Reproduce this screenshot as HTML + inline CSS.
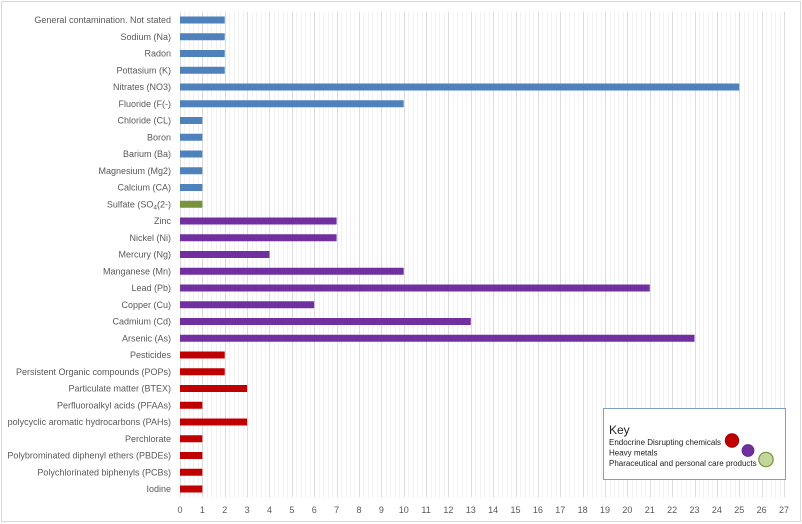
<!DOCTYPE html>
<html><head><meta charset="utf-8"><style>
html,body{margin:0;padding:0;background:#fff;}
svg{display:block;}
text{font-family:"Liberation Sans",Arial,sans-serif;}
</style></head><body>
<svg width="802" height="524" viewBox="0 0 802 524" xmlns="http://www.w3.org/2000/svg">
<rect x="1.5" y="1.5" width="799" height="520" fill="#fff" stroke="#d9d9d9" stroke-width="1"/>
<g id="minor" stroke="#f2f2f2" stroke-width="1">
</g>
<g id="major" stroke="#dcdcdc" stroke-width="1">
</g>
<g id="bars"></g>
<g id="labels" font-size="9" fill="#595959" text-anchor="end"></g>
<g id="ticks" font-size="9" fill="#595959" text-anchor="middle"></g>
<rect x="603.5" y="408.5" width="182" height="71" fill="#fff" stroke="#7f9cc6" stroke-width="1"/>
<text x="609" y="434" font-size="12" fill="#222">Key</text>
<text x="609" y="445" font-size="8" fill="#222">Endocrine Disrupting chemicals</text>
<text x="609" y="455.5" font-size="8" fill="#222">Heavy metals</text>
<text x="609" y="466" font-size="8" fill="#222">Pharaceutical and personal care products</text>
<circle cx="732" cy="440.5" r="6.8" fill="#c00000" stroke="#a00000" stroke-width="0.8"/>
<circle cx="748" cy="450.5" r="6" fill="#7030a0" stroke="#5e2488" stroke-width="0.8"/>
<circle cx="766" cy="459.5" r="7.2" fill="#c3d69b" stroke="#77933c" stroke-width="1.2"/>
</svg>
<script>
(function(){
var ns="http://www.w3.org/2000/svg";
var x0=180, u=604/27, top=11.6, bot=497.4, rowH=16.75;
function el(tag,attrs,parent,txt){var e=document.createElementNS(ns,tag);for(var k in attrs)e.setAttribute(k,attrs[k]);if(txt!=null)e.textContent=txt;document.getElementById(parent).appendChild(e);return e;}
for(var i=0;i<=27*5;i++){var x=Math.round(x0+i*u/5)+0.5;if(i%5===0){el('line',{x1:x,x2:x,y1:top,y2:bot},'major');}else{el('line',{x1:x,x2:x,y1:top,y2:bot},'minor');}}
var B="#4f81bd",G="#77933c",P="#7030a0",R="#c00000";
var data=[
["General contamination. Not stated",2,B],["Sodium (Na)",2,B],["Radon",2,B],["Pottasium (K)",2,B],["Nitrates (NO3)",25,B],["Fluoride (F(-)",10,B],["Chloride (CL)",1,B],["Boron",1,B],["Barium (Ba)",1,B],["Magnesium (Mg2)",1,B],["Calcium (CA)",1,B],["SULF",1,G],["Zinc",7,P],["Nickel (Ni)",7,P],["Mercury (Ng)",4,P],["Manganese (Mn)",10,P],["Lead (Pb)",21,P],["Copper (Cu)",6,P],["Cadmium (Cd)",13,P],["Arsenic (As)",23,P],["Pesticides",2,R],["Persistent Organic compounds (POPs)",2,R],["Particulate matter (BTEX)",3,R],["Perfluoroalkyl acids (PFAAs)",1,R],["polycyclic aromatic hydrocarbons (PAHs)",3,R],["Perchlorate",1,R],["Polybrominated diphenyl ethers (PBDEs)",1,R],["Polychlorinated biphenyls (PCBs)",1,R],["Iodine",1,R]];
for(var j=0;j<data.length;j++){var cy=20+j*rowH;var d=data[j];
el('rect',{x:x0,y:(cy-3.5).toFixed(2),width:(d[1]*u).toFixed(2),height:7,fill:d[2]},'bars');
if(d[0]==="SULF"){var t=el('text',{x:171,y:(cy+3.2).toFixed(2)},'labels');
var a=document.createElementNS(ns,'tspan');a.textContent="Sulfate (SO";t.appendChild(a);
var b=document.createElementNS(ns,'tspan');b.setAttribute('font-size','6.5');b.setAttribute('dy','2');b.textContent="4";t.appendChild(b);
var c=document.createElementNS(ns,'tspan');c.setAttribute('dy','-2');c.textContent="(2-)";t.appendChild(c);}
else el('text',{x:171,y:(cy+3.2).toFixed(2)},'labels',d[0]);}
for(var k=0;k<=27;k++){el('text',{x:(x0+k*u).toFixed(2),y:513},'ticks',String(k));}
})();
</script>
</body></html>
